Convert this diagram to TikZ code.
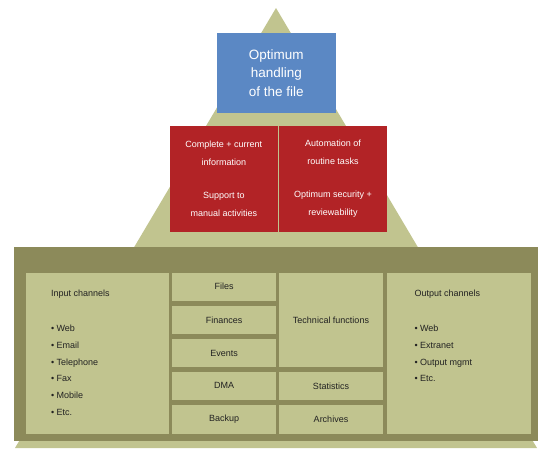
\documentclass[tikz,border=0pt]{standalone}
\usepackage{fontspec}
\setmainfont{Liberation Sans}
\definecolor{olivelight}{HTML}{C1C48F}
\definecolor{olivedark}{HTML}{8C8A5A}
\definecolor{blueb}{HTML}{5B88C4}
\definecolor{redb}{HTML}{B22326}
\definecolor{txtdark}{HTML}{222222}
\begin{document}
\begin{tikzpicture}[x=1pt,y=-1pt,
  box/.style={inner sep=0pt,outer sep=0pt,draw=none,align=center},
  cell/.style={box,fill=olivelight,text=txtdark,font=\fontsize{9}{12}\selectfont},
  redbox/.style={box,fill=redb,text=white,minimum height=105.7pt,font=\fontsize{9}{18}\selectfont},
  listtxt/.style={inner sep=0pt,outer sep=0pt,align=left,anchor=north west,text=txtdark,font=\fontsize{9}{16.8}\selectfont}]
\useasboundingbox (0,0) rectangle (538,448);
\fill[white] (0,0) rectangle (538,448);
% pyramid
\fill[olivelight] (276,8) -- (15,448) -- (537,448) -- cycle;
% top
\node[box,fill=blueb,text=white,minimum width=119.3pt,minimum height=80pt,font=\fontsize{13.5}{18.3}\selectfont] (top) at (276.35,73) {Optimum\\handling\\of the file};
% middle
\node[redbox,minimum width=107.7pt] (redl) at (223.85,178.85) {Complete + current\\information\\[15pt]Support to\\manual activities};
\node[redbox,minimum width=108pt] (redr) at (333,178.85) {Automation of\\routine tasks\\[15pt]Optimum security +\\reviewability};
% base frame
\node[box,fill=olivedark,minimum width=524pt,minimum height=193.4pt] (frame) at (276,344) {};
\node[cell,minimum width=143pt,minimum height=161pt] (input) at (97.5,353) {};
\node[listtxt] (inputtxt) at (51,290) {Input channels\\[18.2pt]• Web\\• Email\\• Telephone\\• Fax\\• Mobile\\• Etc.};
\node[cell,minimum width=103.7pt,minimum height=28.2pt] (files) at (224.15,286.6) {Files};
\node[cell,minimum width=103.7pt,minimum height=28.3pt] (fin) at (224.15,319.85) {Finances};
\node[cell,minimum width=103.7pt,minimum height=28.3pt] (events) at (224.15,353.15) {Events};
\node[cell,minimum width=103.7pt,minimum height=28.3pt] (dma) at (224.15,385.85) {DMA};
\node[cell,minimum width=103.7pt,minimum height=28.5pt] (backup) at (224.15,419.25) {Backup};
\node[cell,minimum width=103.4pt,minimum height=94.8pt] (tech) at (331,319.9) {Technical functions};
\node[cell,minimum width=103.4pt,minimum height=28.3pt] (stats) at (331,385.85) {Statistics};
\node[cell,minimum width=103.4pt,minimum height=28.5pt] (arch) at (331,419.25) {Archives};
\node[cell,minimum width=144pt,minimum height=161pt] (output) at (459,353) {};
\node[listtxt] (outputtxt) at (414.5,290) {Output channels\\[18.2pt]• Web\\• Extranet\\• Output mgmt\\• Etc.};
\end{tikzpicture}
\end{document}
